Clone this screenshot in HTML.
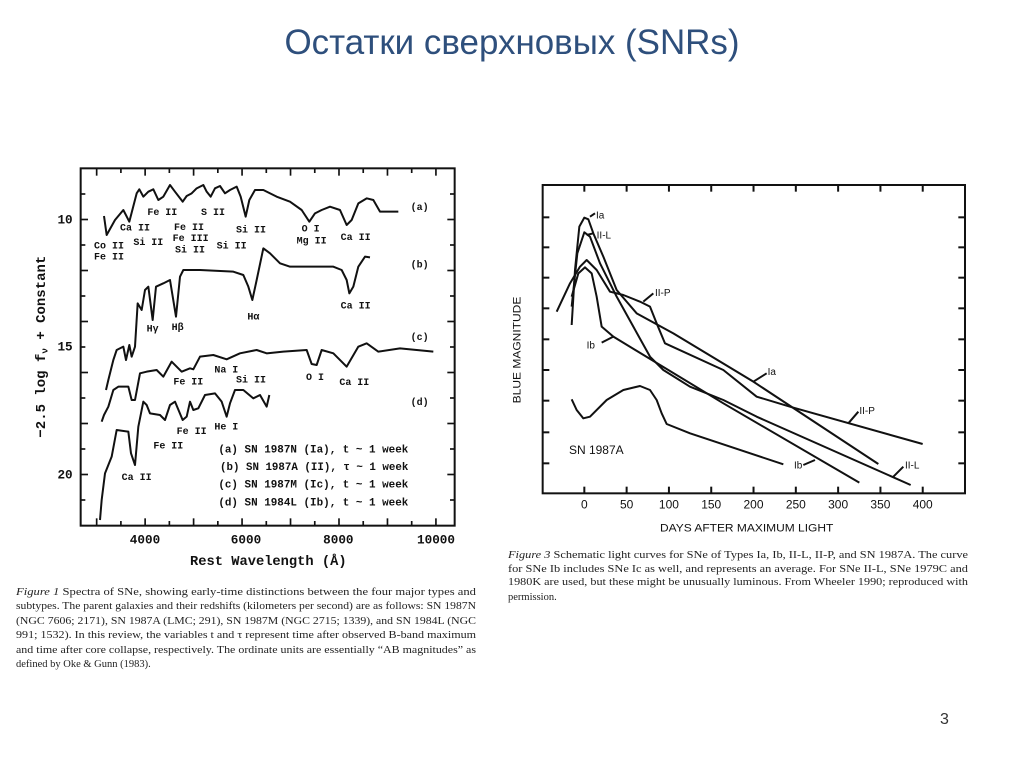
<!DOCTYPE html>
<html><head><meta charset="utf-8"><style>
html,body{margin:0;padding:0;background:#fff;}
svg{display:block;}
.t{font-family:"Liberation Mono",monospace;font-weight:bold;fill:#111;}
.c{font-family:"Liberation Serif",serif;fill:#222;font-size:10.5px;}
.s{font-family:"Liberation Sans",sans-serif;fill:#111;}
</style></head><body>
<svg id="sv" width="1024" height="767" viewBox="0 0 1024 767" xmlns="http://www.w3.org/2000/svg">
<text x="512" y="54" text-anchor="middle" font-family="'Liberation Sans','DejaVu Sans',sans-serif" font-size="35" fill="#2e4f7c" textLength="455" lengthAdjust="spacingAndGlyphs">Остатки сверхновых (SNRs)</text>

<g transform="translate(0,160) scale(0.33333)" fill="none" stroke="#111">
<rect x="242" y="25" width="1122" height="1072" stroke-width="6"/>
<g id="lt" stroke-width="5"></g>
<g stroke-width="6" stroke-linejoin="round">
<polyline points="312,168 320,225 345,180 370,150 388,185 410,100 418,88 430,110 445,95 460,88 475,120 490,110 510,75 525,95 548,125 560,108 575,100 590,85 610,75 620,95 632,110 645,85 660,78 675,100 690,90 710,80 722,110 737,170 748,120 765,90 790,90 830,110 870,125 905,150 928,185 945,160 965,150 990,140 1020,150 1040,195 1055,180 1075,130 1100,115 1120,120 1140,155 1195,155"/>
<polyline points="318,690 325,660 340,600 350,570 370,560 378,600 388,555 395,590 405,560 413,430 425,450 435,390 445,380 458,480 468,380 490,370 510,360 528,470 540,350 550,330 600,330 700,335 730,345 745,380 757,420 770,360 790,265 810,280 840,310 870,320 1000,320 1025,330 1040,360 1048,400 1060,380 1075,320 1095,290 1110,292"/>
<polyline points="305,785 312,765 325,740 340,690 355,680 385,680 395,720 405,720 420,640 440,635 470,630 490,650 515,605 545,635 570,625 580,628 600,590 640,585 680,598 720,580 770,570 800,580 850,575 920,570 935,612 950,615 965,570 1000,580 1040,620 1075,560 1100,550 1135,575 1200,565 1300,575"/>
<polyline points="300,1080 305,1020 315,940 335,890 350,810 385,815 393,880 405,915 415,800 430,725 440,735 450,760 480,765 495,780 510,735 525,725 548,780 560,770 570,725 580,750 595,745 615,705 645,700 665,725 680,770 690,730 705,690 730,690 760,715 780,705 800,740 808,705"/>
</g>
<g class="t" stroke="none" font-size="30">
<text x="1232" y="150">(a)</text><text x="1232" y="322">(b)</text><text x="1232" y="540">(c)</text><text x="1232" y="735">(d)</text>
<text x="282" y="265">Co II</text><text x="282" y="298">Fe II</text><text x="360" y="212">Ca II</text><text x="400" y="255">Si II</text>
<text x="442" y="165">Fe II</text><text x="522" y="210">Fe II</text><text x="518" y="243">Fe III</text><text x="525" y="278">Si II</text>
<text x="603" y="165">S II</text><text x="650" y="265">Si II</text><text x="708" y="218">Si II</text><text x="905" y="215">O I</text>
<text x="890" y="250">Mg II</text><text x="1022" y="240">Ca II</text><text x="440" y="515">Hγ</text><text x="515" y="510">Hβ</text>
<text x="742" y="478">Hα</text><text x="1022" y="445">Ca II</text><text x="643" y="638">Na I</text><text x="520" y="673">Fe II</text>
<text x="708" y="668">Si II</text><text x="918" y="660">O I</text><text x="1018" y="675">Ca II</text><text x="530" y="822">Fe II</text>
<text x="643" y="808">He I</text><text x="460" y="865">Fe II</text><text x="365" y="960">Ca II</text>
</g>
<g class="t" stroke="none" font-size="32">
<text x="655" y="878" textLength="570" lengthAdjust="spacingAndGlyphs">(a) SN 1987N (Ia), t ~ 1 week</text>
<text x="660" y="930" textLength="565" lengthAdjust="spacingAndGlyphs">(b) SN 1987A (II), τ ~ 1 week</text>
<text x="655" y="983" textLength="570" lengthAdjust="spacingAndGlyphs">(c) SN 1987M (Ic), t ~ 1 week</text>
<text x="655" y="1036" textLength="570" lengthAdjust="spacingAndGlyphs">(d) SN 1984L (Ib), t ~ 1 week</text>
</g>
<g class="t" stroke="none" font-size="38">
<text x="218" y="190" text-anchor="end">10</text><text x="218" y="572" text-anchor="end">15</text><text x="218" y="955" text-anchor="end">20</text>
<text x="435" y="1150" text-anchor="middle">4000</text><text x="738" y="1150" text-anchor="middle">6000</text>
<text x="1015" y="1150" text-anchor="middle">8000</text><text x="1308" y="1150" text-anchor="middle">10000</text>
<text x="805" y="1215" text-anchor="middle" font-size="42" textLength="470" lengthAdjust="spacingAndGlyphs">Rest Wavelength (Å)</text>
<text transform="translate(135,560) rotate(-90)" text-anchor="middle" font-size="42">−2.5 log f<tspan font-size="28" dy="8">ν</tspan><tspan dy="-8"> + Constant</tspan></text>
</g>
</g>

<g transform="translate(490,170) scale(0.33333)" fill="none" stroke="#111">
<rect x="158" y="45" width="1267" height="925" stroke-width="6"/>
<g id="rt" stroke-width="6"></g>
<g stroke-width="6" stroke-linejoin="round">
<polyline points="245,465 255,300 268,170 283,143 295,148 310,190 340,260 380,360 440,430 550,490 790,635 1165,882"/>
<polyline points="245,410 262,250 283,187 300,200 330,280 380,380 430,470 480,560 520,600 600,650 700,690 800,740 1262,945"/>
<polyline points="200,425 240,340 270,290 290,270 320,300 360,365 400,375 450,395 480,410 500,460 525,520 700,600 800,680 900,710 1298,822"/>
<polyline points="245,380 265,310 285,292 305,310 320,380 335,470 370,500 700,700 1108,938"/>
<polyline points="245,688 260,720 280,745 300,740 350,690 400,660 450,648 480,660 500,690 515,730 530,762 600,790 880,883"/>
<polyline points="300,140 315,130"/><polyline points="290,195 310,190"/><polyline points="460,395 490,370"/>
<polyline points="335,518 370,500"/><polyline points="790,635 830,610"/><polyline points="1075,760 1105,725"/>
<polyline points="940,885 975,870"/><polyline points="1210,920 1240,890"/>
</g>
<g class="s" stroke="none" font-size="30">
<text x="318" y="145">Ia</text><text x="320" y="205">II-L</text><text x="495" y="378">II-P</text><text x="290" y="535">Ib</text>
<text x="833" y="615">Ia</text><text x="1108" y="732">II-P</text><text x="912" y="895">Ib</text><text x="1245" y="895">II-L</text>
<text x="237" y="852" font-size="36">SN 1987A</text>
<text transform="translate(92,540) rotate(-90)" text-anchor="middle" font-size="34" textLength="320" lengthAdjust="spacingAndGlyphs">BLUE MAGNITUDE</text>
<text x="770" y="1085" text-anchor="middle" font-size="34" textLength="520" lengthAdjust="spacingAndGlyphs">DAYS AFTER MAXIMUM LIGHT</text>
</g>
<g id="rx" class="s" stroke="none" font-size="36"></g>
</g>

<g class="c">
<text x="16" y="595" textLength="460" lengthAdjust="spacingAndGlyphs"><tspan font-style="italic">Figure 1</tspan>   Spectra of SNe, showing early-time distinctions between the four major types and</text>
<text x="16" y="609" textLength="460" lengthAdjust="spacingAndGlyphs">subtypes. The parent galaxies and their redshifts (kilometers per second) are as follows: SN 1987N</text>
<text x="16" y="624" textLength="460" lengthAdjust="spacingAndGlyphs">(NGC 7606; 2171), SN 1987A (LMC; 291), SN 1987M (NGC 2715; 1339), and SN 1984L (NGC</text>
<text x="16" y="638" textLength="460" lengthAdjust="spacingAndGlyphs">991; 1532). In this review, the variables t and τ represent time after observed B-band maximum</text>
<text x="16" y="653" textLength="460" lengthAdjust="spacingAndGlyphs">and time after core collapse, respectively. The ordinate units are essentially “AB magnitudes” as</text>
<text x="16" y="667">defined by Oke &amp; Gunn (1983).</text>
<text x="508" y="558" textLength="460" lengthAdjust="spacingAndGlyphs"><tspan font-style="italic">Figure 3</tspan>   Schematic light curves for SNe of Types Ia, Ib, II-L, II-P, and SN 1987A. The curve</text>
<text x="508" y="572" textLength="460" lengthAdjust="spacingAndGlyphs">for SNe Ib includes SNe Ic as well, and represents an average.  For SNe II-L, SNe 1979C and</text>
<text x="508" y="585" textLength="460" lengthAdjust="spacingAndGlyphs">1980K are used, but these might be unusually luminous.  From Wheeler 1990; reproduced with</text>
<text x="508" y="600">permission.</text>
</g>
<text x="940" y="724" font-family="'Liberation Sans',sans-serif" font-size="16" fill="#333">3</text>
</svg>
<script>
var NS="http://www.w3.org/2000/svg";
function L(g,x1,y1,x2,y2){var l=document.createElementNS(NS,"line");l.setAttribute("x1",x1);l.setAttribute("y1",y1);l.setAttribute("x2",x2);l.setAttribute("y2",y2);g.appendChild(l);}
var lt=document.getElementById("lt");
for(var i=0;i<15;i++){var x=290+72.7*i;if(x>1362)break;var len=(i%2==0)?22:14;L(lt,x,1097,x,1097-len);L(lt,x,25,x,25+len);}
for(var j=0;j<13;j++){var y=102+76.5*j;var len=(j%2==1)?22:14;L(lt,242,y,242+len,y);L(lt,1364,y,1364-len,y);}
var rt=document.getElementById("rt"),rx=document.getElementById("rx");
for(var i=0;i<9;i++){var x=283+126.9*i;L(rt,x,970,x,950);L(rt,x,45,x,65);
var t=document.createElementNS(NS,"text");t.setAttribute("x",x);t.setAttribute("y",1015);t.setAttribute("text-anchor","middle");t.textContent=String(i*50);rx.appendChild(t);}
[142,232,323,415,508,600,692,787,880].forEach(function(y){L(rt,158,y,178,y);L(rt,1425,y,1405,y);});
</script>
</body></html>
